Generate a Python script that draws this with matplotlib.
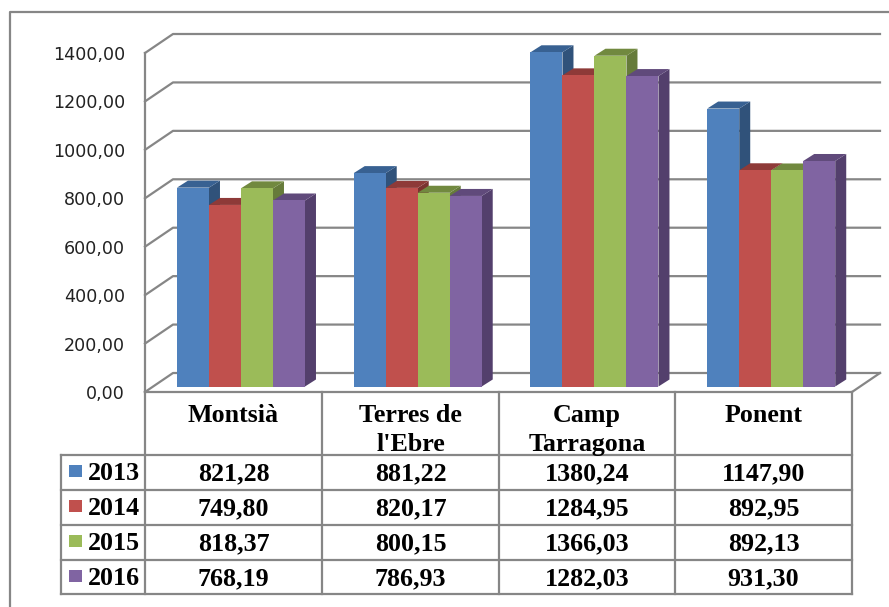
import matplotlib
matplotlib.use('Agg')
import matplotlib.pyplot as plt
from matplotlib.ticker import FuncFormatter

# data from the table under the chart
categories = ["Montsià", "Terres de\nl'Ebre", "Camp\nTarragona", "Ponent"]
years = ['2013', '2014', '2015', '2016']
v2013 = [821.28, 881.22, 1380.24, 1147.90]
v2014 = [749.80, 820.17, 1284.95, 892.95]
v2015 = [818.37, 800.15, 1366.03, 892.13]
v2016 = [768.19, 786.93, 1282.03, 931.30]
series = [v2013, v2014, v2015, v2016]
ticks = [0, 200, 400, 600, 800, 1000, 1200, 1400]

front = ['#4F81BD', '#C0504D', '#9BBB59', '#8064A2']
top = ['#386192', '#8E3A38', '#71893F', '#604A7B']
side = ['#30527A', '#7A3230', '#667B3A', '#533F6C']
GRAY = '#868686'

W, H = 889, 607
LEFT, RIGHT, BASE, TOP = 145, 852, 392, 53

fig = plt.figure(figsize=(W / 100, H / 100), dpi=100)
ax = fig.add_axes([LEFT / W, 1 - BASE / H, (RIGHT - LEFT) / W, (BASE - TOP) / H])
ax.set_xlim(0, 4)
ax.set_ylim(0, 1400)
ax.patch.set_visible(False)

# pixels to data units
px = 4 / (RIGHT - LEFT)
py = 1400 / (BASE - TOP)
wall_dx, wall_dy = 28 * px, 19 * py
bar_w = 32 * px
off_x, off_y = 7.6 * px, 5.5 * py
depth_x, depth_y = 11 * px, 7 * py

# walls
for t in ticks:
    ax.plot([0, wall_dx, 4 + wall_dx], [t, t + wall_dy, t + wall_dy],
            color=GRAY, lw=1.6, clip_on=False, zorder=1)
ax.plot([4, 4 + wall_dx], [0, wall_dy], color=GRAY, lw=1.6, clip_on=False, zorder=1)

# bars, left to right so each one covers the side of the previous
z = 2
for i in range(len(categories)):
    for j, vals in enumerate(series):
        x0 = i + 0.5 + off_x + (j - 2) * bar_w
        x1 = x0 + bar_w
        y0 = off_y
        y1 = off_y + vals[i]
        ax.fill([x1, x1 + depth_x, x1 + depth_x, x1],
                [y0, y0 + depth_y, y1 + depth_y, y1],
                color=side[j], lw=0, clip_on=False, zorder=z)
        ax.fill([x0, x0 + depth_x, x1 + depth_x, x1],
                [y1, y1 + depth_y, y1 + depth_y, y1],
                color=top[j], lw=0, clip_on=False, zorder=z)
        ax.bar(x0, vals[i], bar_w, bottom=y0, align='edge', color=front[j],
               clip_on=False, zorder=z + 1)
        z += 2

for s in ['top', 'right']:
    ax.spines[s].set_visible(False)
for s in ['left', 'bottom']:
    ax.spines[s].set_color(GRAY)
    ax.spines[s].set_linewidth(1.6)
    ax.spines[s].set_zorder(1)
ax.set_xticks([])
ax.set_yticks(ticks)
ax.yaxis.set_major_formatter(FuncFormatter(lambda v, p: f'{v:.2f}'.replace('.', ',')))
ax.tick_params(axis='y', length=0, pad=14.4, labelsize=12.6, labelcolor='#222222')

# overlay in pixel coordinates for border and data table
ov = fig.add_axes([0, 0, 1, 1])
ov.set_xlim(0, W)
ov.set_ylim(H, 0)
ov.axis('off')
ov.patch.set_visible(False)

ov.plot([9.5, 9.5, W], [H, 12, 12], color=GRAY, lw=1.6)

col_x = [145, 322, 499, 675, 852]
row_y = [455, 490, 525, 560, 594]
for x in col_x:
    ov.plot([x, x], [392, 594], color=GRAY, lw=1.6)
for y in row_y:
    ov.plot([61, 852], [y, y], color=GRAY, lw=1.6)
ov.plot([61, 61], [455, 594], color=GRAY, lw=1.6)

font = dict(family='Liberation Serif', weight='bold', size=18.7, color='black',
            va='baseline')
for i, name in enumerate(categories):
    cx = (col_x[i] + col_x[i + 1]) / 2
    for k, line in enumerate(name.split('\n')):
        ov.text(cx, 422 + k * 29, line, ha='center', **font)

for j, vals in enumerate(series):
    ov.fill([69, 82, 82, 69], [row_y[j] + 10, row_y[j] + 10, row_y[j] + 22, row_y[j] + 22],
            color=front[j], lw=0)
    ov.text(88, row_y[j] + 25, years[j], ha='left', **font)
    for i in range(len(categories)):
        cx = (col_x[i] + col_x[i + 1]) / 2
        ov.text(cx, row_y[j] + 25, f'{vals[i]:.2f}'.replace('.', ','), ha='center', **font)

fig.savefig('out.png', dpi=100)
